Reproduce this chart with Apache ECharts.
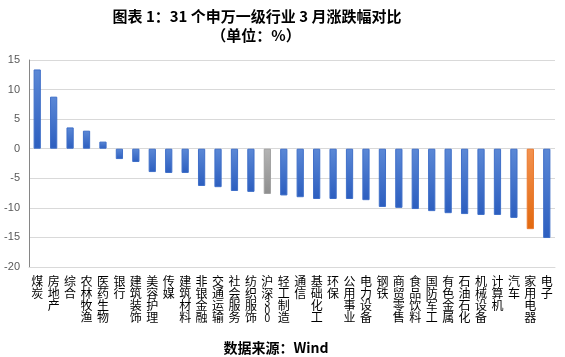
<!DOCTYPE html>
<html><head><meta charset="utf-8">
<script src="https://cdn.jsdelivr.net/npm/echarts@6/dist/echarts.min.js"></script>
<style>html,body{margin:0;padding:0;background:#fff}#c{width:565px;height:357px}</style>
</head><body><div id="c"></div>
<script>
const titleText = '图表 1：31 个申万一级行业 3 月涨跌幅对比';
const subtitleText = '（单位：%）';
const sourceText = '数据来源：Wind';
const categories = ['煤炭','房地产','综合','农林牧渔','医药生物','银行','建筑装饰','美容护理','传媒','建筑材料','非银金融','交通运输','社会服务','纺织服饰','沪深300','轻工制造','通信','基础化工','环保','公用事业','电力设备','钢铁','商贸零售','食品饮料','国防军工','有色金属','石油石化','机械设备','计算机','汽车','家用电器','电子'];
const values = [13.4,8.8,3.6,3.05,1.2,-1.75,-2.25,-3.95,-4.1,-4.1,-6.3,-6.5,-7.15,-7.3,-7.65,-7.9,-8.2,-8.5,-8.5,-8.5,-8.7,-9.85,-10.0,-10.2,-10.55,-10.9,-11.05,-11.2,-11.2,-11.7,-13.6,-15.1];
const benchmarkName = '沪深300';
const highlightName = '家用电器';
const yMin = -20, yMax = 15, yStep = 5;

function grad(a,b){return new echarts.graphic.LinearGradient(0,0,0,1,[{offset:0,color:a},{offset:1,color:b}]);}
const blue = {color: grad('#5b88d6','#2c5ebf'), borderColor:'#3f6fc8', borderWidth:1};
const gray = {color: grad('#b4b4b4','#8e8e8e'), borderColor:'#a0a0a0', borderWidth:1};
const orange = {color: grad('#f39250','#e2690f'), borderColor:'#ea7a30', borderWidth:1};

const data = values.map((v,i)=>({
  value: v,
  itemStyle: categories[i]===benchmarkName ? gray : (categories[i]===highlightName ? orange : blue)
}));

function vertical(s){
  const out = [];
  for (const ch of s) {
    if (/[0-9]/.test(ch)) out.push('{d|' + ch + '}');
    else out.push('{c|' + ch + '}');
  }
  return out.join('\n');
}

const chart = echarts.init(document.getElementById('c'));
chart.setOption({
  animation:false,
  backgroundColor:'#fff',
  title:[
    {text:titleText, left:252, top:4, textAlign:'center', textStyle:{fontSize:15, fontWeight:'bold', color:'#000', fontFamily:'Noto Sans CJK SC'}},
    {text:subtitleText, left:251, top:23, textAlign:'center', textStyle:{fontSize:15, fontWeight:'bold', color:'#000', fontFamily:'Noto Sans CJK SC'}},
    {text:sourceText, left:271, top:336, textAlign:'center', textStyle:{fontSize:14, fontWeight:'bold', color:'#000', fontFamily:'Noto Sans CJK SC'}}
  ],
  grid:{left:29, right:10, top:60, bottom:90},
  xAxis:{
    type:'category', data:categories, position:'bottom',
    axisLine:{onZero:false, lineStyle:{color:'#d9d9d9'}},
    axisTick:{show:false},
    axisLabel:{interval:0, margin:8, color:'#000', fontFamily:'Noto Sans CJK SC',
      formatter:vertical,
      rich:{
        c:{fontSize:12, lineHeight:12, color:'#000', fontFamily:'Noto Sans CJK SC'},
        d:{fontSize:10, lineHeight:8, color:'#000', fontFamily:'Liberation Sans'}
      }
    }
  },
  yAxis:{
    type:'value', min:yMin, max:yMax, interval:yStep,
    axisLine:{show:true, lineStyle:{color:'#868686'}},
    axisTick:{show:false},
    splitLine:{lineStyle:{color:'#d9d9d9'}},
    axisLabel:{fontSize:11, color:'#595959', margin:9, fontFamily:'Liberation Sans'}
  },
  series:[{type:'bar', data:data, barWidth:'44%'}]
});
</script></body></html>
